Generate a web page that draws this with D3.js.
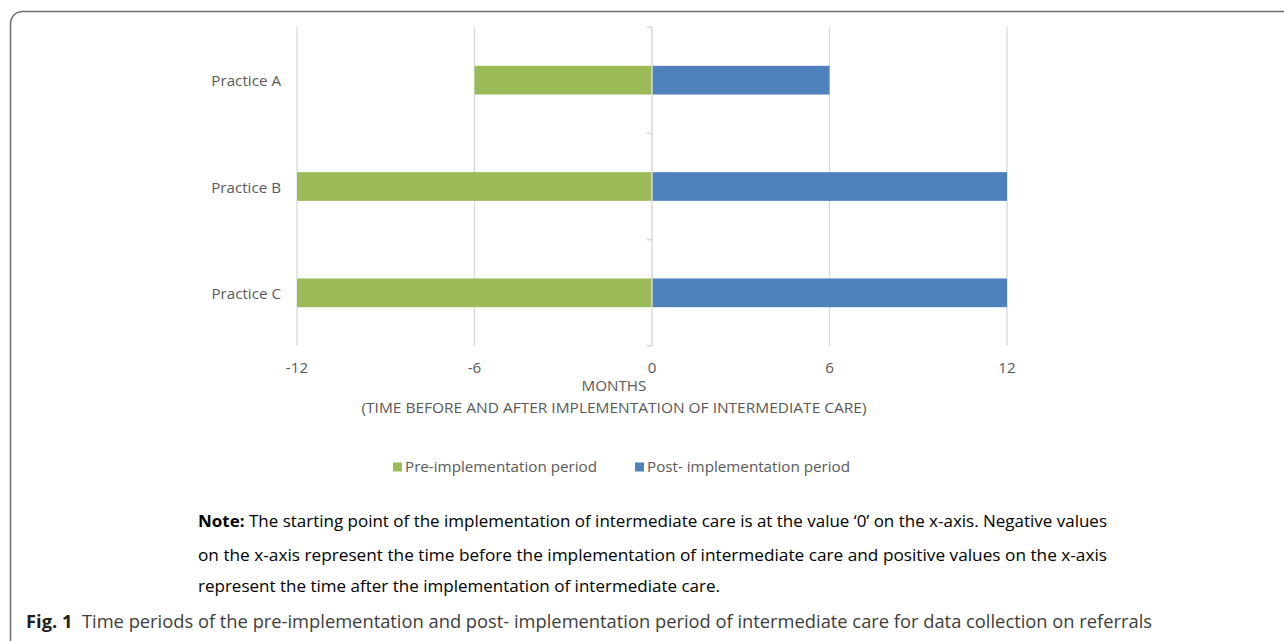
<!DOCTYPE html>
<html>
<head>
<meta charset="utf-8">
<script src="https://cdn.jsdelivr.net/npm/d3@7"></script>
<style>
  body { margin: 0; background: #fff; }
  svg { display: block; }
</style>
</head>
<body>
<div id="chart"></div>
<script>
// ======= data
var practices = ["Practice A", "Practice B", "Practice C"];
var preMonths = [-6, -12, -12];
var postMonths = [6, 12, 12];
var xTicks = [-12, -6, 0, 6, 12];
var seriesNames = ["Pre-implementation period", "Post- implementation period"];
var seriesColors = ["#9BBB59", "#4F81BD"];

var noteLines = [
  "The starting point of the implementation of intermediate care is at the value \u20180\u2019 on the x-axis. Negative values",
  "on the x-axis represent the time before the implementation of intermediate care and positive values on the x-axis",
  "represent the time after the implementation of intermediate care."
];
var figCaption = "Time periods of the pre-implementation and post- implementation period of intermediate care for data collection on referrals";

var W = 1284, H = 641;
var labelFont = "'Open Sans', 'Noto Sans', sans-serif";
var labelSize = "15.2px";

var svg = d3.select("#chart")
  .append("svg")
  .attr("width", W)
  .attr("height", H);

// ======= rounded frame
svg.append("rect")
  .attr("x", 10.5)
  .attr("y", 11.5)
  .attr("width", 1300)
  .attr("height", 642)
  .attr("rx", 12)
  .attr("fill", "none")
  .attr("stroke", "#6d6d6d")
  .attr("stroke-width", 1.5);

// ======= scales
var x = d3.scaleLinear().domain([-12, 12]).range([297, 1007]);
var y = d3.scaleBand().domain(practices).range([27, 346]).paddingInner(0.73).paddingOuter(0.365);

// ======= gridlines
svg.append("g")
  .selectAll("line")
  .data(xTicks.filter(function(d) { return d !== 0; }))
  .enter()
  .append("line")
  .attr("x1", function(d) { return x(d); })
  .attr("x2", function(d) { return x(d); })
  .attr("y1", 27)
  .attr("y2", 346)
  .attr("stroke", "#d9d9d9")
  .attr("stroke-width", 1.3);

// ======= bars
var rows = practices.map(function(p, j) {
  return { name: p, pre: preMonths[j], post: postMonths[j] };
});

svg.append("g")
  .selectAll("rect")
  .data(rows)
  .enter()
  .append("rect")
  .attr("x", function(d) { return x(d.pre); })
  .attr("y", function(d) { return y(d.name); })
  .attr("width", function(d) { return x(0) - x(d.pre); })
  .attr("height", y.bandwidth())
  .attr("fill", seriesColors[0]);

svg.append("g")
  .selectAll("rect")
  .data(rows)
  .enter()
  .append("rect")
  .attr("x", x(0))
  .attr("y", function(d) { return y(d.name); })
  .attr("width", function(d) { return x(d.post) - x(0); })
  .attr("height", y.bandwidth())
  .attr("fill", seriesColors[1]);

// ======= category axis at 0
var boundaries = [27].concat(practices.map(function(p) { return y(p) + y.bandwidth() / 2 + y.step() / 2; }));

svg.append("line")
  .attr("x1", x(0)).attr("x2", x(0))
  .attr("y1", 27).attr("y2", 346)
  .attr("stroke", "#d9d9d9")
  .attr("stroke-width", 1.5);

svg.append("g")
  .selectAll("line")
  .data(boundaries)
  .enter()
  .append("line")
  .attr("x1", x(0) - 5).attr("x2", x(0))
  .attr("y1", function(d) { return d; })
  .attr("y2", function(d) { return d; })
  .attr("stroke", "#d9d9d9")
  .attr("stroke-width", 1.5);

svg.append("g")
  .selectAll("text")
  .data(practices)
  .enter()
  .append("text")
  .text(function(d) { return d; })
  .attr("x", 281)
  .attr("y", function(d) { return y(d) + y.bandwidth() / 2 + 1; })
  .attr("dy", "0.35em")
  .attr("text-anchor", "end")
  .attr("fill", "#595959")
  .attr("font-family", labelFont)
  .attr("font-size", labelSize);

// ======= x tick labels
svg.append("g")
  .selectAll("text")
  .data(xTicks)
  .enter()
  .append("text")
  .text(function(d) { return d; })
  .attr("x", function(d) { return x(d); })
  .attr("y", 368)
  .attr("dy", "0.35em")
  .attr("text-anchor", "middle")
  .attr("fill", "#595959")
  .attr("font-family", labelFont)
  .attr("font-size", labelSize);

// ======= axis title
svg.append("text")
  .attr("x", 614)
  .attr("y", 386)
  .attr("dy", "0.35em")
  .attr("text-anchor", "middle")
  .attr("fill", "#595959")
  .attr("font-family", labelFont)
  .attr("font-size", labelSize)
  .text("MONTHS");

svg.append("text")
  .attr("x", 614)
  .attr("y", 408)
  .attr("dy", "0.35em")
  .attr("text-anchor", "middle")
  .attr("fill", "#595959")
  .attr("font-family", labelFont)
  .attr("font-size", labelSize)
  .attr("textLength", 505)
  .attr("lengthAdjust", "spacingAndGlyphs")
  .text("(TIME BEFORE AND AFTER IMPLEMENTATION OF INTERMEDIATE CARE)");

// ======= legend
var legendX = [393, 635];
var legend = svg.append("g")
  .selectAll("g")
  .data(seriesNames)
  .enter()
  .append("g")
  .attr("transform", function(d, j) { return "translate(" + legendX[j] + ",467)"; });

legend.append("rect")
  .attr("x", 0).attr("y", -4.5)
  .attr("width", 9).attr("height", 9)
  .attr("fill", function(d, j) { return seriesColors[j]; });

legend.append("text")
  .text(function(d) { return d; })
  .attr("x", 12)
  .attr("dy", "0.35em")
  .attr("fill", "#595959")
  .attr("font-family", labelFont)
  .attr("font-size", labelSize);

// ======= note
var noteFont = "'Open Sans', sans-serif";
var noteY = [522, 556, 587];
var noteLen = [909, 909, 522];
var noteText = svg.append("g")
  .selectAll("text")
  .data(noteLines)
  .enter()
  .append("text")
  .attr("x", 198)
  .attr("y", function(d, j) { return noteY[j]; })
  .attr("dy", "0.35em")
  .attr("fill", "#000")
  .attr("font-family", noteFont)
  .attr("font-size", "15.5px")
  .attr("textLength", function(d, j) { return noteLen[j]; })
  .attr("lengthAdjust", "spacingAndGlyphs");

noteText.each(function(d, j) {
  var t = d3.select(this);
  if (j === 0) {
    t.append("tspan").attr("font-weight", "bold").text("Note: ");
  }
  t.append("tspan").text(d);
});

// ======= figure caption
var cap = svg.append("text")
  .attr("x", 26)
  .attr("y", 622)
  .attr("dy", "0.35em")
  .attr("font-family", "'Open Sans', sans-serif")
  .attr("font-size", "17.5px")
  .attr("textLength", 1126)
  .attr("lengthAdjust", "spacingAndGlyphs");

cap.append("tspan")
  .attr("font-weight", "bold")
  .attr("fill", "#231f20")
  .text("Fig.\u00a01\u00a0\u00a0");

cap.append("tspan")
  .attr("fill", "#3d3d3d")
  .text(figCaption);
</script>
</body>
</html>
